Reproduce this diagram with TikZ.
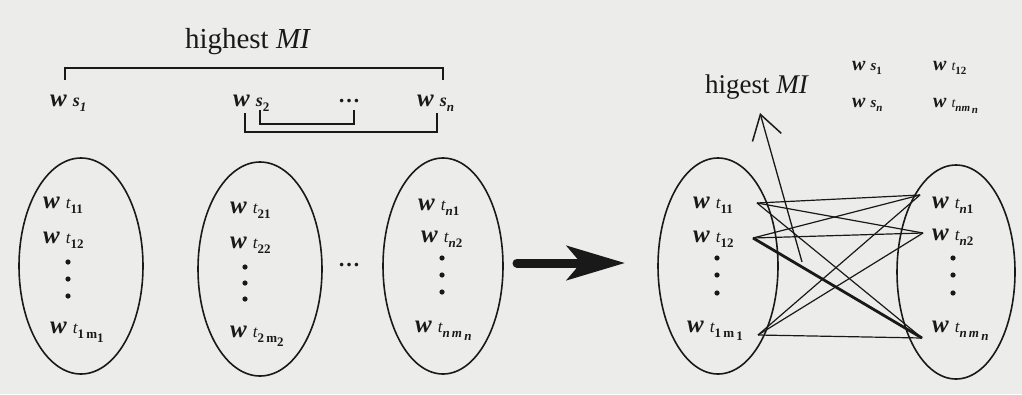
\documentclass[tikz,border=0pt]{standalone}
\usepackage{fontspec}
\setmainfont{Liberation Serif}
\usetikzlibrary{arrows.meta}
\definecolor{paper}{RGB}{236,236,234}
\definecolor{ink}{RGB}{25,25,25}
% big label: w t_sub
\newcommand{\wbig}{{\fontsize{25}{25}\selectfont\bfseries\itshape w}}
\newcommand{\tlab}[1]{\wbig\hspace{6pt}{\fontsize{17}{17}\selectfont\itshape t}\raisebox{-5pt}{\fontsize{13}{13}\selectfont\bfseries #1}}
\newcommand{\slab}[1]{\wbig\hspace{6pt}{\fontsize{18}{18}\selectfont\bfseries\itshape s}\raisebox{-5pt}{\fontsize{13}{13}\selectfont\bfseries #1}}
% small label
\newcommand{\wsm}{{\fontsize{20}{20}\selectfont\bfseries\itshape w}}
\newcommand{\tsm}[1]{\wsm\hspace{5pt}{\fontsize{14}{14}\selectfont\itshape t}\raisebox{-4pt}{\fontsize{11}{11}\selectfont\bfseries #1}}
\newcommand{\ssm}[1]{\wsm\hspace{5pt}{\fontsize{15}{15}\selectfont\bfseries\itshape s}\raisebox{-4pt}{\fontsize{11}{11}\selectfont\bfseries #1}}
\tikzset{
  lab/.style={inner sep=0pt, anchor=base west, text=ink},
  set/.style={draw=ink, line width=1.6pt},
  link/.style={draw=ink, line width=1.2pt},
  strong/.style={draw=ink, line width=2.8pt},
  brk/.style={draw=ink, line width=1.4pt},
  dotc/.style={fill=ink},
}
\begin{document}
\begin{tikzpicture}[x=1pt,y=-1pt]
\fill[paper] (0,0) rectangle (1022,394);
\useasboundingbox (0,0) rectangle (1022,394);

% ---------- left part ----------
\node[text=ink, font=\fontsize{29}{29}\selectfont] (hmi) at (248,42) {highest \textit{MI}};
\node[lab] (ws1) at (50,106) {\slab{\textit{1}}};
\node[lab] (ws2) at (233,106) {\slab{2}};
\node[text=ink, font=\fontsize{22}{22}\selectfont\bfseries] (sdots) at (349,101) {\ldots};
\node[lab] (wsn) at (417,106) {\slab{\textit{n}}};

\coordinate (b1) at (65,80);  \coordinate (b2) at (443,80);
\draw[brk] (b1) |- (254,68) -| (b2);
\coordinate (c1) at (245,113); \coordinate (c2) at (437,113);
\draw[brk] (c1) |- (340,132) -| (c2);
\coordinate (d1) at (260,110); \coordinate (d2) at (354,110);
\draw[brk] (d1) |- (307,124) -| (d2);

% ellipses
\draw[set] (81,266) ellipse [x radius=62, y radius=108];
\draw[set] (260,269) ellipse [x radius=62, y radius=107];
\draw[set] (443,266) ellipse [x radius=60, y radius=108];

\node[lab] (a11) at (43,208) {\tlab{11}};
\node[lab] (a12) at (43,243) {\tlab{12}};
\fill[dotc] (68,262) circle (2.6) (68,279) circle (2.6) (68,296) circle (2.6);
\node[lab] (a1m) at (50,333) {\tlab{1\,m\raisebox{-4pt}{1}}};

\node[lab] (b21) at (230,213) {\tlab{21}};
\node[lab] (b22) at (230,248) {\tlab{22}};
\fill[dotc] (245,267) circle (2.6) (245,283) circle (2.6) (245,299) circle (2.6);
\node[lab] (b2m) at (230,337) {\tlab{2\,m\raisebox{-4pt}{2}}};

\node[text=ink, font=\fontsize{22}{22}\selectfont\bfseries] (edots) at (349,265) {\ldots};

\node[lab] (cn1) at (418,210) {\tlab{\textit{n}1}};
\node[lab] (cn2) at (421,242) {\tlab{\textit{n}2}};
\fill[dotc] (442,258) circle (2.6) (442,275) circle (2.6) (442,292) circle (2.6);
\node[lab] (cnm) at (415,332) {\tlab{\textit{n\,m}\,\raisebox{-3pt}{\textit{n}}}};

% big arrow
\coordinate (ar1) at (517,263); \coordinate (ar2) at (625,263);
\draw[ink, line width=9pt, line cap=round, -{Stealth[length=58pt, width=34pt, inset=14pt]}] (ar1) -- (ar2);

% ---------- right part ----------
\node[text=ink, font=\fontsize{27}{27}\selectfont] (hmi2) at (757,87) {higest \textit{MI}};
\node[lab] (rs1) at (852,70) {\ssm{1}};
\node[lab] (rsn) at (852,107) {\ssm{\textit{n}}};
\node[lab] (rt12) at (933,70) {\tsm{12}};
\node[lab] (rtn) at (933,107) {\tsm{\textit{nm}\,\raisebox{-2pt}{\textit{n}}}};

\draw[set] (718,266) ellipse [x radius=60, y radius=108];
\draw[set] (956,272) ellipse [x radius=59, y radius=107];

\node[lab] (l11) at (693,208) {\tlab{11}};
\node[lab] (l12) at (693,242) {\tlab{12}};
\fill[dotc] (717,258) circle (2.6) (717,275) circle (2.6) (717,293) circle (2.6);
\node[lab] (l1m) at (687,332) {\tlab{1\,m\,\raisebox{-3pt}{1}}};

\node[lab] (rn1) at (932,208) {\tlab{\textit{n}1}};
\node[lab] (rn2) at (932,240) {\tlab{\textit{n}2}};
\fill[dotc] (953,258) circle (2.6) (953,275) circle (2.6) (953,293) circle (2.6);
\node[lab] (rnm) at (932,332) {\tlab{\textit{n\,m}\,\raisebox{-3pt}{\textit{n}}}};

% link ends
\coordinate (p1) at (757,203);
\coordinate (p2) at (753,238);
\coordinate (p3) at (758,335);
\coordinate (q1) at (920,195);
\coordinate (q2) at (923,233);
\coordinate (q3) at (922,338);

\draw[link] (p1) -- (q1);
\draw[link] (p1) -- (q2);
\draw[link] (p1) -- (q3);
\draw[link] (p2) -- (q1);
\draw[link] (p2) -- (q2);
\draw[strong] (p2) -- (q3);
\draw[link] (p3) -- (q1);
\draw[link] (p3) -- (q2);
\draw[link] (p3) -- (q3);

% MI arrow
\coordinate (m1) at (802,262);
\coordinate (m2) at (760,113);
\draw[link, line width=1.3pt, -{Straight Barb[length=24pt, width=30pt, line width=1.5pt]}] (m1) -- (m2);
\end{tikzpicture}
\end{document}
